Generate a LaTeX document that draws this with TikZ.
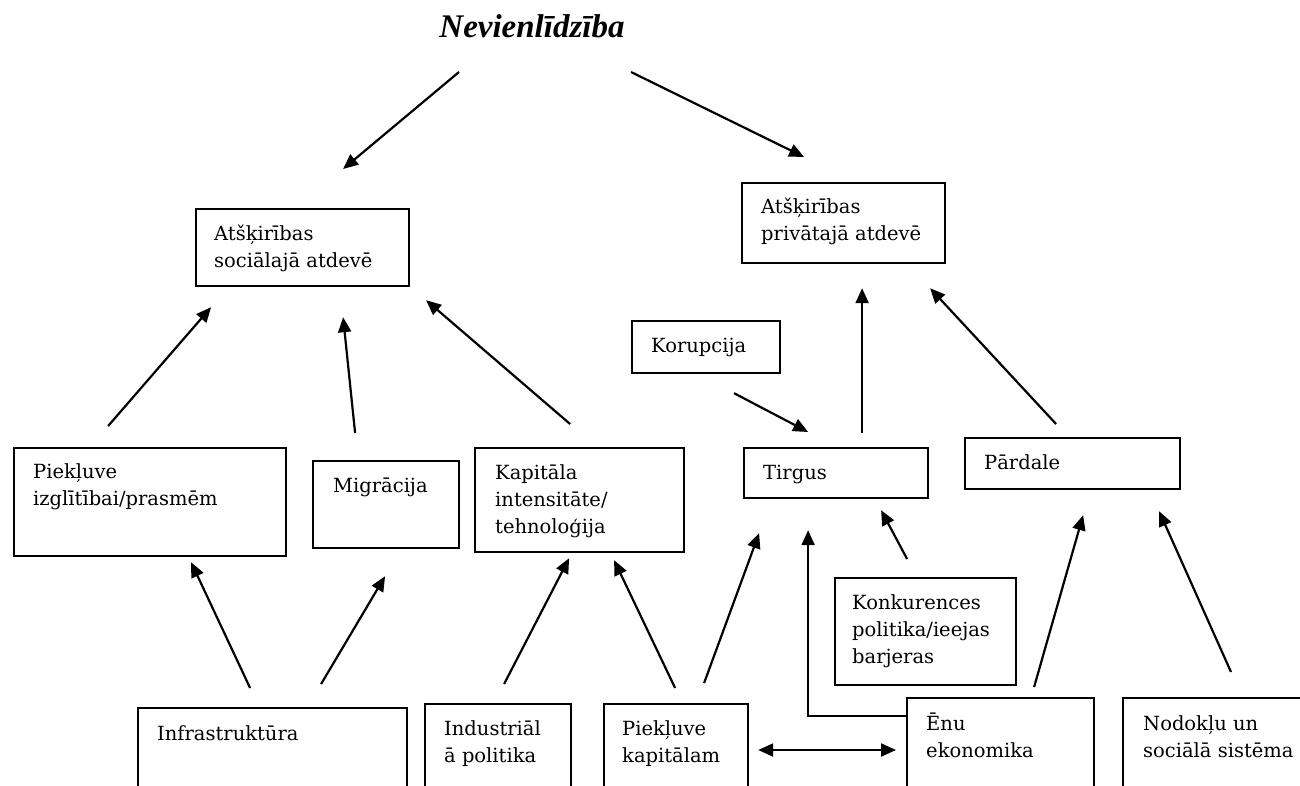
\documentclass[tikz,border=0pt]{standalone}
\usepackage{fontspec}
\setmainfont{DejaVu Serif}
\newfontfamily\titlefont{Liberation Serif}
\usetikzlibrary{arrows.meta,calc}
\tikzset{
  box/.style={draw, line width=2.2pt, anchor=north west, inner sep=0pt, rectangle},
  txt/.style={anchor=north west, inner sep=0pt, align=left, font=\fontsize{19.5}{27}\selectfont},
  arr/.style={line width=2.2pt, -{Triangle[length=15pt,width=13pt]}},
  darr/.style={line width=2.2pt, {Triangle[length=15pt,width=13pt]}-{Triangle[length=15pt,width=13pt]}}
}
\begin{document}
\begin{tikzpicture}[x=1pt,y=-1pt]
\useasboundingbox (0,0) rectangle (1300,785);
\clip (0,0) rectangle (1300,785);
\fill[white] (0,0) rectangle (1300,785);
% title
\node[anchor=base, inner sep=0pt, font=\fontsize{33}{38}\titlefont\bfseries\itshape] (title) at (532,37) {Nevienlīdzība};
% boxes
\node[box, minimum width=213pt, minimum height=77pt] (soc) at (195,208) {};
\node[box, minimum width=203pt, minimum height=80pt] (priv) at (741,182) {};
\node[box, minimum width=272pt, minimum height=108pt] (pizgl) at (13,447) {};
\node[box, minimum width=146pt, minimum height=87pt] (migr) at (312,460) {};
\node[box, minimum width=209pt, minimum height=104pt] (kap) at (474,447) {};
\node[box, minimum width=148pt, minimum height=52pt] (kor) at (631,320) {};
\node[box, minimum width=184pt, minimum height=50pt] (tirg) at (743,447) {};
\node[box, minimum width=215pt, minimum height=51pt] (pard) at (964,437) {};
\node[box, minimum width=181pt, minimum height=107pt] (konk) at (834,577) {};
\node[box, minimum width=269pt, minimum height=100pt] (infra) at (137,707) {};
\node[box, minimum width=146pt, minimum height=104pt] (indus) at (424,703) {};
\node[box, minimum width=144pt, minimum height=104pt] (pkap) at (603,703) {};
\node[box, minimum width=187pt, minimum height=110pt] (enu) at (906,697) {};
\node[box, minimum width=190pt, minimum height=110pt] (nod) at (1122,697) {};
% texts
\node[txt] (socT) at (214,221.1) {\strut Atšķirības\\sociālajā atdevē};
\node[txt] (privT) at (761,194.1) {\strut Atšķirības\\privātajā atdevē};
\node[txt] (pizglT) at (33,459.1) {\strut Piekļuve\\izglītībai/prasmēm};
\node[txt] (migrT) at (333,473.1) {\strut Migrācija};
\node[txt] (kapT) at (495,460.1) {\strut Kapitāla\\intensitāte/\\tehnoloģija};
\node[txt] (korT) at (651,333.1) {\strut Korupcija};
\node[txt] (tirgT) at (763,460.1) {\strut Tirgus};
\node[txt] (pardT) at (984,450.1) {\strut Pārdale};
\node[txt] (konkT) at (852,590.1) {\strut Konkurences\\politika/ieejas\\barjeras};
\node[txt] (infraT) at (157,721.1) {\strut Infrastruktūra};
\node[txt] (indusT) at (444,716.1) {\strut Industriāl\\ā politika};
\node[txt] (pkapT) at (622,716.1) {\strut Piekļuve\\kapitālam};
\node[txt] (enuT) at (926,711.1) {\strut Ēnu\\ekonomika};
\node[txt] (nodT) at (1143,711.1) {\strut Nodokļu un\\sociālā sistēma};
% arrows
\draw[arr] ($(title.base)+(-73,35)$) -- ($(soc.north)+(40.5,-39)$);
\draw[arr] ($(title.base)+(99,35)$) -- ($(priv.north)+(-39.5,-25)$);
\draw[arr] ($(pizgl.north)+(-42,-21)$) -- ($(soc.south)+(-91.5,20)$);
\draw[arr] ($(migr.north)+(-31,-27)$) -- ($(soc.south)+(40.5,30)$);
\draw[arr] ($(kap.north)+(-9.5,-23)$) -- ($(soc.south)+(123.5,13)$);
\draw[arr] ($(infra.north)+(-22.5,-19)$) -- ($(pizgl.south)+(41,5)$);
\draw[arr] ($(infra.north)+(48.5,-23)$) -- ($(migr.south)+(-1,27)$);
\draw[arr] ($(indus.north)+(6,-19)$) -- ($(kap.south)+(-10.5,5)$);
\draw[arr] ($(pkap.north)+(-1,-15)$) -- ($(kap.south)+(34.5,7)$);
\draw[arr] ($(pkap.north)+(28,-20)$) -- ($(tirg.south)+(-77,34)$);
\draw[arr] ($(kor.south)+(28,19)$) -- ($(tirg.north)+(-28,-15)$);
\draw[arr] ($(tirg.north)+(26,-14)$) -- ($(priv.south)+(18.5,24)$);
\draw[arr] ($(pard.north)+(-16.5,-13)$) -- ($(priv.south)+(86.5,24)$);
\draw[arr] ($(konk.north)+(-18.5,-18)$) -- ($(tirg.south)+(45,11)$);
\draw[arr] ($(enu.north west)+(0,19)$) -| ($(tirg.south)+(-28,31)$);
\draw[darr] ($(pkap.north east)+(9,47)$) -- ($(enu.north west)+(-10,53)$);
\draw[arr] ($(enu.north)+(33.5,-10)$) -- ($(pard.south)+(10.5,25)$);
\draw[arr] ($(nod.north west)+(109,-25)$) -- ($(pard.south)+(86.5,21)$);
\end{tikzpicture}
\end{document}
